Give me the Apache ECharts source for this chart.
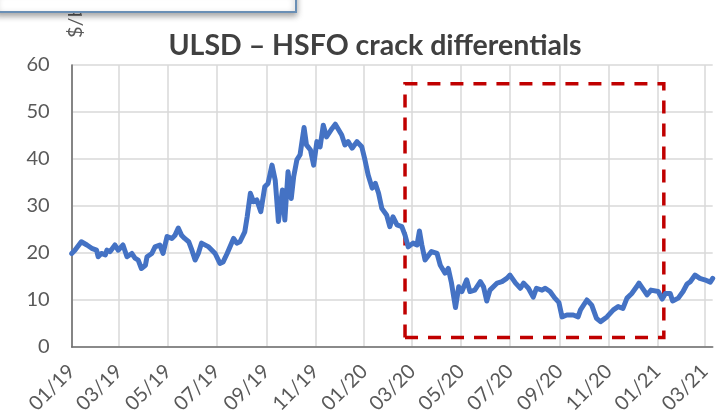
<!DOCTYPE html>
<html>
<head>
<meta charset="utf-8">
<script src="https://cdn.jsdelivr.net/npm/echarts@6/dist/echarts.min.js"></script>
<style>html,body{margin:0;padding:0;background:#fff;}#c{width:726px;height:419px;}</style>
</head>
<body>
<div id="c"></div>
<script>
const titleText = 'ULSD \u2013 HSFO crack differentials';
const unitText = '$/bbl';
const startDate = '2019-01-01';
const endDate = '2021-03-11';
const yTicks = [0, 10, 20, 30, 40, 50, 60];

const dates = [
'2019-01-01','2019-01-05','2019-01-13','2019-01-20','2019-01-26','2019-02-01','2019-02-03','2019-02-07','2019-02-12','2019-02-14',
'2019-02-18','2019-02-24','2019-02-28','2019-03-06','2019-03-11','2019-03-17','2019-03-21','2019-03-25','2019-03-29','2019-04-03',
'2019-04-05','2019-04-11','2019-04-15','2019-04-21','2019-04-25','2019-04-30','2019-05-06','2019-05-10','2019-05-14','2019-05-18',
'2019-05-22','2019-05-27','2019-05-31','2019-06-04','2019-06-08','2019-06-12','2019-06-14','2019-06-21','2019-06-29','2019-07-05',
'2019-07-09','2019-07-14','2019-07-22','2019-07-26','2019-07-30','2019-08-05','2019-08-08','2019-08-12','2019-08-16','2019-08-20',
'2019-08-25','2019-08-30','2019-09-03','2019-09-08','2019-09-12','2019-09-16','2019-09-21','2019-09-24','2019-09-28','2019-10-02',
'2019-10-05','2019-10-09','2019-10-13','2019-10-18','2019-10-21','2019-10-26','2019-10-30','2019-11-03','2019-11-07','2019-11-11',
'2019-11-15','2019-11-22','2019-11-26','2019-11-28','2019-12-04','2019-12-08','2019-12-12','2019-12-17','2019-12-23','2019-12-29',
'2020-01-02','2020-01-06','2020-01-11','2020-01-15','2020-01-19','2020-01-23','2020-01-29','2020-02-02','2020-02-06','2020-02-11',
'2020-02-17','2020-02-21','2020-02-25','2020-03-02','2020-03-07','2020-03-10','2020-03-13','2020-03-17','2020-03-25','2020-04-01',
'2020-04-05','2020-04-11','2020-04-15','2020-04-19','2020-04-24','2020-04-28','2020-05-02','2020-05-08','2020-05-12','2020-05-18',
'2020-05-25','2020-05-29','2020-06-02','2020-06-06','2020-06-15','2020-06-21','2020-06-27','2020-07-01','2020-07-08','2020-07-14',
'2020-07-18','2020-07-24','2020-07-30','2020-08-03','2020-08-10','2020-08-14','2020-08-20','2020-08-26','2020-08-31','2020-09-04',
'2020-09-10','2020-09-18','2020-09-24','2020-09-27','2020-10-05','2020-10-11','2020-10-17','2020-10-22','2020-10-30','2020-11-07',
'2020-11-13','2020-11-19','2020-11-24','2020-11-30','2020-12-06','2020-12-09','2020-12-15','2020-12-19','2020-12-24','2021-01-02',
'2021-01-07','2021-01-11','2021-01-17','2021-01-20','2021-01-27','2021-02-02','2021-02-07','2021-02-11','2021-02-17','2021-02-23',
'2021-03-01','2021-03-08','2021-03-11'
];
const values = [
19.9,20.6,22.4,21.7,21.0,20.6,19.2,19.9,19.6,20.6,
20.3,21.7,20.6,21.7,19.2,19.9,18.9,18.5,16.7,17.4,
19.2,19.9,21.3,21.7,19.9,23.5,23.1,23.8,25.3,23.8,
23.1,22.4,20.6,18.5,19.9,22.1,22.1,21.3,19.9,17.8,
18.1,19.9,23.1,22.1,22.4,24.5,27.7,32.7,30.9,31.3,
28.8,34.1,34.8,38.7,35.5,26.7,33.4,27.0,37.3,31.6,
36.2,39.8,40.9,46.7,43.0,41.9,38.7,43.7,42.6,47.2,
44.7,46.5,47.4,47.2,45.1,43.0,43.7,42.3,43.7,42.6,
39.8,36.6,33.8,34.8,32.7,29.5,28.1,25.6,27.7,26.0,
25.6,23.8,21.3,22.1,21.7,24.7,21.7,18.5,20.3,19.9,
17.4,15.7,16.7,13.6,8.4,12.8,11.8,14.3,11.8,12.1,
13.9,12.8,9.8,12.1,13.6,13.9,14.6,15.3,13.6,12.5,
13.6,12.5,10.6,12.5,12.1,12.5,11.8,10.4,9.5,6.4,
6.8,6.8,6.4,7.9,10.0,8.9,6.1,5.4,6.4,7.9,
8.6,8.2,10.4,11.4,12.8,13.6,12.1,11.1,12.1,11.8,
10.2,11.4,11.4,9.8,10.4,11.8,13.4,13.9,15.3,14.6,
14.3,13.8,14.6
];
const boxStart = '2020-02-21';
const boxEnd = '2021-01-09';
const boxLow = 2;
const boxHigh = 56;

function fmt(d) {
  const y = d.getUTCFullYear(), m = d.getUTCMonth() + 1, dd = d.getUTCDate();
  return y + '-' + (m < 10 ? '0' : '') + m + '-' + (dd < 10 ? '0' : '') + dd;
}
const categories = [];
for (let t = Date.parse(startDate + 'T00:00:00Z'); t <= Date.parse(endDate + 'T00:00:00Z'); t += 86400000) {
  categories.push(fmt(new Date(t)));
}
function isMajor(index, value) {
  const m = parseInt(value.slice(5, 7), 10);
  return value.slice(8, 10) === '01' && (m % 2 === 1);
}

const chart = echarts.init(document.getElementById('c'), null, {renderer: 'canvas'});
chart.setOption({
  animation: false,
  backgroundColor: '#ffffff',
  grid: {left: 71.7, right: 13.3, top: 65, bottom: 72, containLabel: false},
  xAxis: {
    type: 'category',
    data: categories,
    boundaryGap: false,
    axisLine: {show: true, lineStyle: {color: '#6e6e6e', width: 1.6}},
    axisTick: {show: false},
    axisLabel: {
      interval: isMajor,
      rotate: 45,
      margin: 21,
      color: '#595959',
      fontFamily: 'Lato',
      fontSize: 20,
      formatter: function (v) { return v.slice(5, 7) + '/' + v.slice(2, 4); }
    },
    splitLine: {show: true, interval: isMajor, lineStyle: {color: '#d9d9d9', width: 1.5}}
  },
  yAxis: {
    type: 'value',
    min: yTicks[0],
    max: yTicks[yTicks.length - 1],
    interval: 10,
    axisLine: {show: true, lineStyle: {color: '#6e6e6e', width: 1.6}},
    axisTick: {show: false},
    axisLabel: {color: '#595959', fontFamily: 'Lato', fontSize: 20, margin: 22},
    splitLine: {show: true, lineStyle: {color: '#d9d9d9', width: 1.5}}
  },
  series: [{
    type: 'line',
    data: dates.map(function (d, i) { return [d, values[i]]; }),
    showSymbol: false,
    smooth: false,
    lineStyle: {color: '#4472c4', width: 5, join: 'round', cap: 'round'},
    itemStyle: {color: '#4472c4'},
    markArea: {
      silent: true,
      itemStyle: {color: 'rgba(0,0,0,0)', borderColor: '#c00000', borderWidth: 3.5, borderType: [13, 10]},
      data: [[{xAxis: boxStart, yAxis: boxLow}, {xAxis: boxEnd, yAxis: boxHigh}]]
    }
  }],
  graphic: [
    {type: 'text', x: 76, y: 38, rotation: Math.PI / 2, z: 10,
     style: {text: unitText, fill: '#595959', font: '20px Lato', align: 'left', verticalAlign: 'middle'}},
    {type: 'rect', z: 20, shape: {x: -4, y: -10, width: 300, height: 22},
     style: {fill: '#ffffff', stroke: '#6a8fb5', lineWidth: 2,
              shadowBlur: 6, shadowOffsetY: 3, shadowColor: 'rgba(0,0,0,0.35)'}},
    {type: 'text', x: 375, y: 46, z: 10,
     style: {text: titleText, fill: '#404040', font: 'bold 28.5px Lato', align: 'center', verticalAlign: 'middle'}}
  ]
});
</script>
</body>
</html>
